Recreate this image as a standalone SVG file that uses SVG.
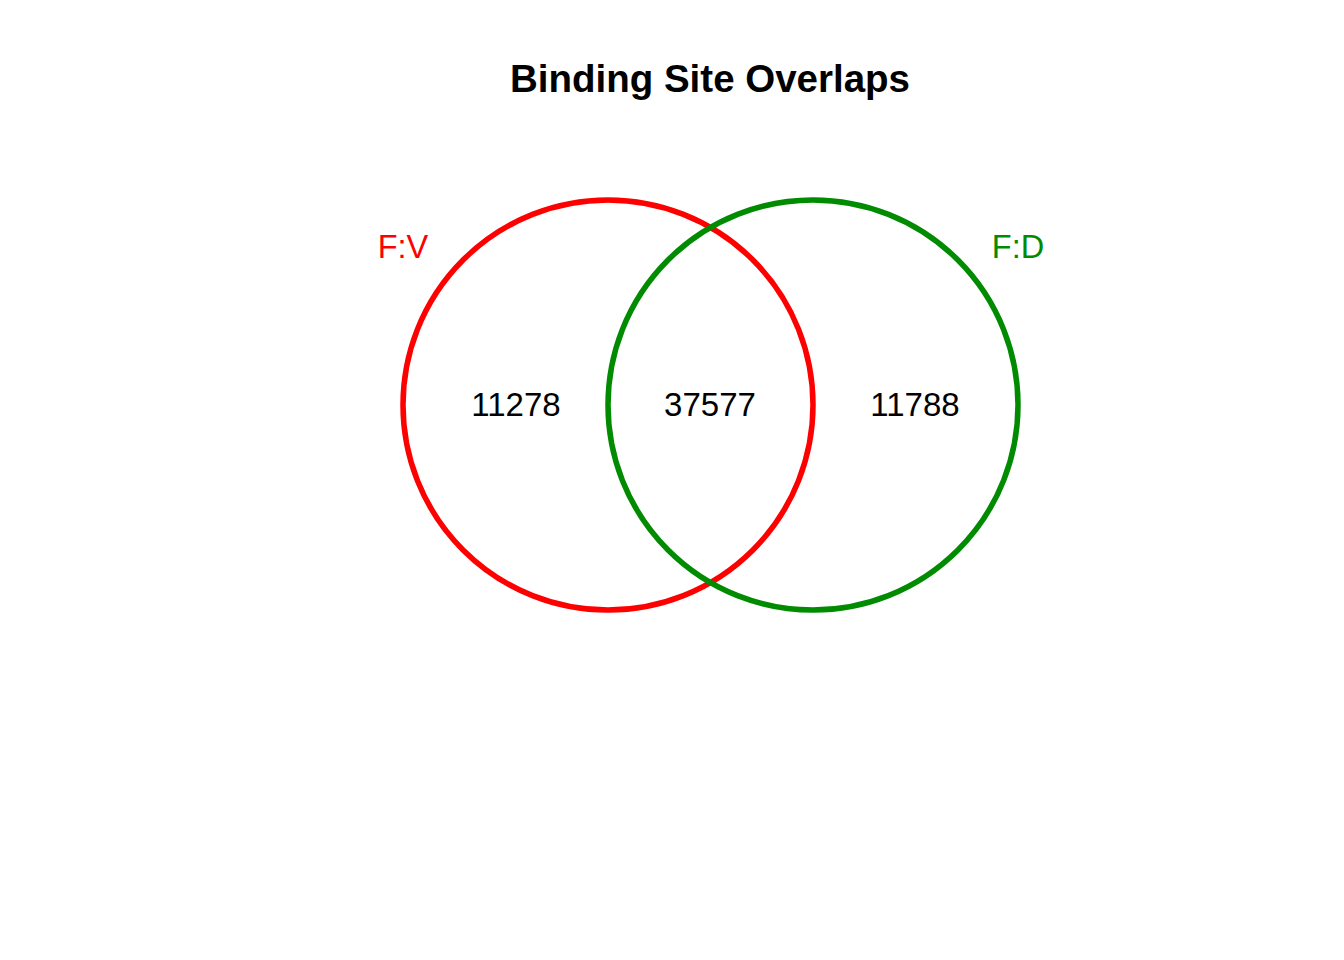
<svg xmlns="http://www.w3.org/2000/svg" width="1344" height="960" viewBox="0 0 1344 960">
<style>
text { font-family: "Liberation Sans", Arial, sans-serif; }
.title { font-size: 38.5px; font-weight: bold; fill: #000; }
.num { font-size: 33px; fill: #000; }
.lab { font-size: 32.5px; }
.set { fill: none; stroke-width: 5.5; }
</style>
<rect width="1344" height="960" fill="#fff"/>
<text class="title" x="710" y="92" text-anchor="middle">Binding Site Overlaps</text>
<g id="setFV">
<circle class="set" cx="608" cy="405" r="205" stroke="#FF0000"/>
<text class="lab" x="403" y="258" text-anchor="middle" fill="#FF0000">F:V</text>
</g>
<g id="setFD">
<circle class="set" cx="813" cy="405" r="205" stroke="#008B00"/>
<text class="lab" x="1018" y="258" text-anchor="middle" fill="#008B00">F:D</text>
</g>
<g id="counts">
<text class="num" x="516" y="416" text-anchor="middle">11278</text>
<text class="num" x="710" y="416" text-anchor="middle">37577</text>
<text class="num" x="915" y="416" text-anchor="middle">11788</text>
</g>
<g id="connectors"/>
</svg>
